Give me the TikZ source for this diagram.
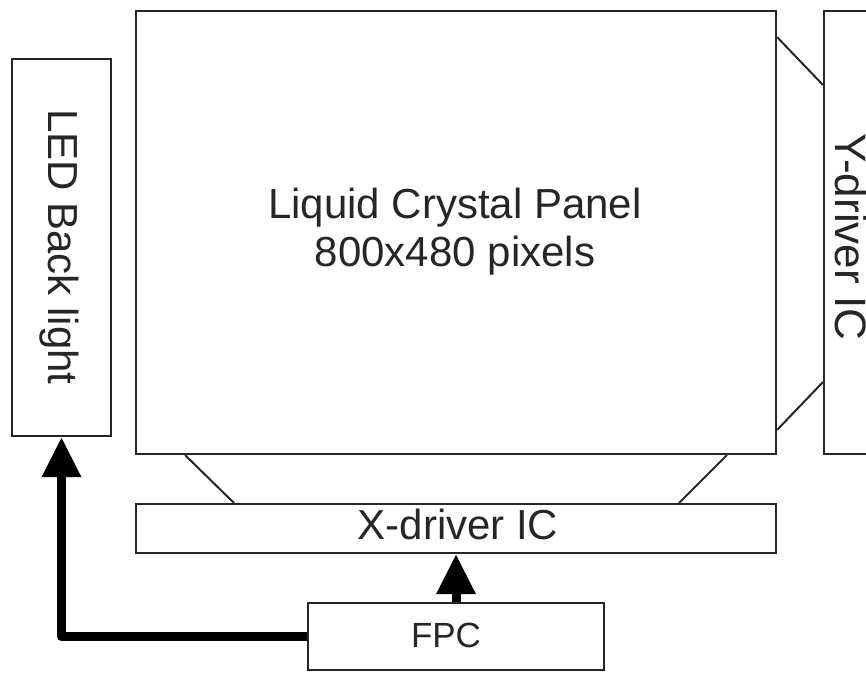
\documentclass[tikz,border=0pt]{standalone}
\usepackage{fontspec}
\setmainfont{Liberation Sans}
\usetikzlibrary{arrows.meta,calc}
\begin{document}
\begin{tikzpicture}[x=1pt,y=-1pt,
  box/.style={draw=black!85,line width=2pt,rectangle,inner sep=0pt,anchor=north west},
  lbl/.style={inner sep=0pt,text=black!85,font=\fontsize{42}{48}\selectfont},
  conn/.style={draw=black!85,line width=2pt},
  bigarrow/.style={draw=black,line width=9pt,line join=round,-{Triangle[length=40pt,width=37pt]}}]
\useasboundingbox (0,0) rectangle (866,673);
\clip (0,0) rectangle (866,673);
\fill[white] (0,0) rectangle (866,673);
% boxes
\node[box,minimum width=640pt,minimum height=443pt] (panel) at (135,10) {};
\node[box,minimum width=99pt,minimum height=377pt] (led) at (11,58) {};
\node[box,minimum width=120pt,minimum height=443pt] (ydrv) at (823,10) {};
\node[box,minimum width=640pt,minimum height=49pt] (xdrv) at (135,503) {};
\node[box,minimum width=296pt,minimum height=67pt] (fpc) at (307,602) {};
% labels
\node[lbl,align=center] (panellbl) at (455,231.5) {Liquid Crystal Panel\\800x480 pixels};
\node[lbl,anchor=base] (xlbl) at (458,539) {X-driver IC};
\node[lbl,anchor=base,font=\fontsize{35}{40}\selectfont] (fpclbl) at (446,647) {FPC};
\node[lbl,anchor=base,rotate=-90] (ledlbl) at (48,247) {LED Back light};
\node[lbl,anchor=base,rotate=-90,font=\fontsize{44}{50}\selectfont] (ylbl) at (835,237) {Y-driver IC};
% connectors panel - drivers
\draw[conn] ($(panel.south west)+(50,0)$) -- ($(xdrv.north west)+(99,0)$);
\draw[conn] ($(panel.south east)+(-50,0)$) -- ($(xdrv.north east)+(-98,0)$);
\draw[conn] ($(panel.north east)+(0,27)$) -- ($(ydrv.north west)+(0,75)$);
\draw[conn] ($(panel.south east)+(0,-25)$) -- ($(ydrv.south west)+(0,-73)$);
% arrows
\draw[bigarrow] (fpc.north) -- (xdrv.south);
\draw[bigarrow] (fpc.west) -| (led.south);
\end{tikzpicture}
\end{document}
